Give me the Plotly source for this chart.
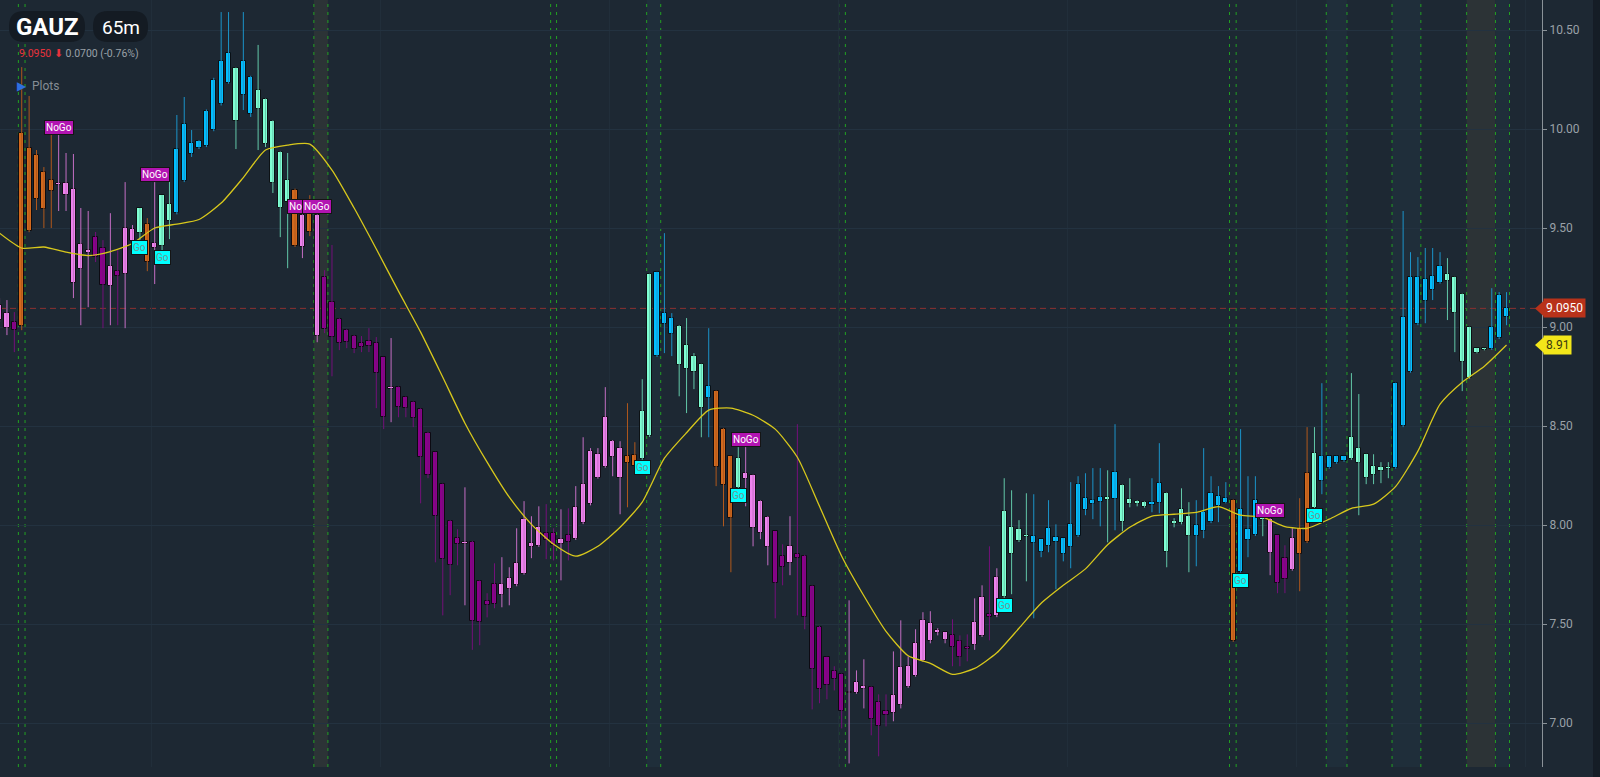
import plotly.graph_objects as go

# ---------------- data ----------------
X_FIRST = -3  # index of the first (partly visible) candle
TREND = ("PPM"
         "OOOOOPPPPP" "MMPMPPAOPA" "ABBBBBBBBA" "BBAAAAAOPO" "PMMMMMMMMM"
         "PMMMMMMMMM" "PMMMMPPPPP" "PMMPMPPPPP" "PPOOAABBBA" "AAABOOOAPP"
         "PPMMPMMMMM" "MMPPPMMMPP" "PPPPPPMMMP" "PMPAAAABBB" "BBBBBBBABA"
         "AAABBAAAAB" "BBBBOBBBAP" "MMPOOABBBB" "AAAAAABBBB" "BBBAAAAAAB"
         "BB")
OPEN = [9.111, 9.071, 9.026,
        9.005, 9.905, 9.870, 9.784, 9.743, 9.728, 9.728, 9.698, 9.293, 9.389,
        9.455, 9.400, 9.207, 9.283, 9.268, 9.496, 9.475, 9.521, 9.425, 9.410,
        9.536, 9.576, 9.738, 9.875, 9.905, 9.915, 9.996, 10.127, 10.234, 10.309,
        10.173, 10.264, 10.102, 10.153, 10.042, 9.885, 9.632, 9.693, 9.405, 9.576,
        9.566, 9.253, 9.127, 9.041, 8.985, 8.955, 8.919, 8.904, 8.919, 8.849,
        8.687, 8.697, 8.646, 8.621, 8.586, 8.464, 8.368, 8.207, 8.020, 7.934,
        7.903, 7.913, 7.716, 7.615, 7.701, 7.646, 7.676, 7.696, 7.752, 7.908,
        7.893, 7.959, 7.959, 7.903, 7.949, 7.929, 8.009, 8.106, 8.358, 8.293,
        8.424, 8.389, 8.313, 8.353, 8.333, 8.449, 9.278, 9.015, 9.046, 9.005,
        8.909, 8.854, 8.813, 8.641, 8.677, 8.485, 8.348, 8.186, 8.262, 8.252,
        8.121, 8.040, 7.969, 7.843, 7.807, 7.853, 7.843, 7.691, 7.484, 7.332,
        7.261, 7.246, 7.150, 7.150, 7.170, 7.180, 7.105, 7.059, 7.049, 7.090,
        7.180, 7.236, 7.312, 7.504, 7.453, 7.459, 7.443, 7.413, 7.383, 7.393,
        7.438, 7.550, 7.539, 7.635, 7.989, 7.918, 7.939, 7.944, 7.929, 7.893,
        7.939, 7.934, 7.888, 7.944, 8.136, 8.106, 8.116, 8.141, 8.131, 8.202,
        8.106, 8.121, 8.116, 8.100, 8.111, 8.161, 8.004, 8.009, 8.045, 7.944,
        7.969, 8.015, 8.146, 8.111, 8.126, 7.762, 7.979, 7.949, 8.035, 8.030,
        7.949, 7.833, 7.772, 7.853, 7.913, 8.085, 8.348, 8.288, 8.313, 8.323,
        8.333, 8.389, 8.358, 8.252, 8.272, 8.283, 8.288, 8.500, 8.773, 9.015,
        9.132, 9.187, 9.223, 9.268, 9.253, 9.167, 9.000, 8.869, 8.884, 8.889,
        8.945, 9.051]
HIGH = [9.147, 9.137, 9.076,
        10.314, 10.168, 9.895, 9.809, 10.006, 9.971, 9.880, 9.875, 9.602, 9.587,
        9.481, 9.440, 9.576, 9.389, 9.733, 9.516, 9.602, 9.551, 9.733, 9.667,
        9.799, 10.072, 10.163, 9.996, 9.945, 10.100, 10.260, 10.592, 10.592, 10.312,
        10.592, 10.270, 10.426, 10.155, 10.045, 9.888, 9.880, 9.700, 9.570, 9.667,
        9.570, 9.288, 9.415, 9.045, 8.990, 8.960, 8.955, 8.995, 8.950, 8.850,
        8.945, 8.700, 8.650, 8.625, 8.590, 8.470, 8.370, 8.210, 8.025, 7.979,
        8.191, 7.920, 7.720, 7.656, 7.807, 7.838, 7.787, 7.984, 8.121, 8.045,
        8.095, 8.106, 7.984, 8.080, 8.085, 8.197, 8.444, 8.389, 8.389, 8.697,
        8.430, 8.424, 8.616, 8.419, 8.737, 9.270, 9.280, 9.475, 9.071, 9.010,
        9.046, 8.869, 8.815, 8.995, 8.680, 8.490, 8.350, 8.394, 8.394, 8.255,
        8.125, 8.045, 7.970, 7.903, 8.045, 8.510, 7.850, 7.695, 7.490, 7.335,
        7.287, 7.250, 7.620, 7.266, 7.322, 7.185, 7.145, 7.145, 7.362, 7.519,
        7.337, 7.474, 7.560, 7.565, 7.479, 7.460, 7.524, 7.443, 7.448, 7.630,
        7.696, 7.893, 7.782, 8.237, 8.176, 8.025, 8.161, 8.156, 7.930, 8.126,
        8.004, 7.935, 8.217, 8.247, 8.262, 8.288, 8.288, 8.277, 8.510, 8.205,
        8.237, 8.125, 8.120, 8.237, 8.414, 8.165, 8.035, 8.186, 8.116, 8.126,
        8.389, 8.247, 8.197, 8.217, 8.130, 8.485, 8.247, 8.247, 8.040, 8.035,
        7.950, 7.898, 7.984, 8.136, 8.495, 8.495, 8.717, 8.350, 8.350, 8.350,
        8.768, 8.662, 8.360, 8.358, 8.318, 8.318, 8.720, 9.587, 9.379, 9.354,
        9.400, 9.400, 9.379, 9.349, 9.255, 9.170, 9.002, 8.895, 8.895, 9.197,
        9.177, 9.177]
LOW = [9.026, 8.960, 8.874,
       8.985, 9.480, 9.592, 9.501, 9.501, 9.587, 9.587, 9.147, 9.010, 9.101,
       9.329, 8.995, 9.010, 9.010, 8.995, 9.415, 9.440, 9.283, 9.218, 9.389,
       9.445, 9.570, 9.733, 9.860, 9.900, 9.910, 9.990, 10.120, 10.230, 9.900,
       10.097, 10.062, 9.895, 9.910, 9.678, 9.455, 9.298, 9.405, 9.349, 9.460,
       8.924, 8.970, 8.752, 8.884, 8.894, 8.869, 8.874, 8.874, 8.591, 8.485,
       8.520, 8.545, 8.545, 8.495, 8.110, 8.237, 7.812, 7.544, 7.646, 7.797,
       7.595, 7.370, 7.393, 7.534, 7.580, 7.585, 7.595, 7.691, 7.750, 7.833,
       7.890, 7.828, 7.822, 7.721, 7.822, 7.925, 8.005, 8.100, 8.235, 8.290,
       8.247, 8.055, 8.090, 8.260, 8.330, 8.445, 8.850, 8.869, 8.854, 8.651,
       8.566, 8.687, 8.444, 8.444, 8.197, 7.994, 7.762, 8.186, 8.095, 7.893,
       7.929, 7.797, 7.529, 7.696, 7.747, 7.544, 7.474, 7.069, 7.100, 7.120,
       7.165, 6.973, 6.796, 7.148, 7.074, 6.938, 6.832, 6.983, 7.009, 7.074,
       7.178, 7.234, 7.310, 7.403, 7.443, 7.403, 7.287, 7.287, 7.312, 7.370,
       7.435, 7.418, 7.535, 7.630, 7.651, 7.915, 7.716, 7.529, 7.838, 7.863,
       7.676, 7.817, 7.782, 7.940, 8.050, 8.030, 7.994, 7.913, 7.974, 7.969,
       8.090, 8.095, 8.088, 8.065, 8.060, 7.787, 7.989, 8.004, 7.762, 7.792,
       7.934, 8.010, 8.015, 8.110, 7.410, 7.760, 7.838, 7.945, 7.944, 7.747,
       7.656, 7.656, 7.770, 7.666, 7.910, 8.085, 8.156, 8.285, 8.310, 8.320,
       8.330, 8.050, 8.207, 8.207, 8.212, 8.237, 8.285, 8.495, 8.770, 9.010,
       9.020, 9.137, 9.220, 9.036, 8.874, 8.677, 8.740, 8.868, 8.883, 8.885,
       8.940, 9.010]
CLOSE = [9.036, 8.995, 8.985,
         9.981, 9.485, 9.647, 9.597, 9.688, 9.718, 9.667, 9.223, 9.420, 9.374,
         9.354, 9.213, 9.309, 9.258, 9.501, 9.435, 9.602, 9.329, 9.400, 9.667,
         9.622, 9.900, 10.026, 9.930, 9.940, 10.092, 10.249, 10.345, 10.385, 10.042,
         10.345, 10.077, 10.198, 9.925, 9.728, 9.602, 9.743, 9.410, 9.566, 9.481,
         8.955, 8.990, 8.950, 8.919, 8.924, 8.889, 8.899, 8.929, 8.768, 8.545,
         8.697, 8.596, 8.591, 8.540, 8.343, 8.252, 8.045, 7.828, 7.797, 7.903,
         7.913, 7.514, 7.509, 7.595, 7.600, 7.701, 7.731, 7.807, 8.030, 7.888,
         7.989, 7.924, 7.898, 7.929, 7.913, 8.090, 8.207, 8.373, 8.237, 8.545,
         8.343, 8.237, 8.348, 8.300, 8.576, 9.268, 8.854, 9.071, 8.965, 8.808,
         8.788, 8.773, 8.591, 8.702, 8.293, 8.202, 8.035, 8.338, 8.232, 7.984,
         7.959, 7.888, 7.706, 7.787, 7.893, 7.833, 7.534, 7.271, 7.170, 7.191,
         7.221, 7.059, 7.155, 7.206, 7.185, 7.019, 6.983, 7.039, 7.140, 7.282,
         7.287, 7.403, 7.519, 7.413, 7.468, 7.418, 7.383, 7.332, 7.372, 7.509,
         7.635, 7.534, 7.737, 8.070, 7.853, 7.979, 7.949, 7.908, 7.863, 7.984,
         7.913, 7.853, 8.004, 8.207, 8.075, 8.126, 8.141, 8.126, 8.267, 8.015,
         8.131, 8.106, 8.090, 8.116, 8.212, 7.863, 8.020, 8.080, 7.944, 7.999,
         8.065, 8.161, 8.095, 8.136, 7.413, 8.080, 7.924, 8.126, 8.025, 7.858,
         7.706, 7.726, 7.934, 7.984, 8.262, 8.363, 8.222, 8.348, 8.348, 8.348,
         8.444, 8.313, 8.237, 8.298, 8.293, 8.293, 8.717, 9.051, 9.253, 9.253,
         9.243, 9.258, 9.309, 9.233, 9.071, 8.823, 8.742, 8.894, 8.894, 9.000,
         9.162, 9.095]

MA_X = list(range(-3, 202, 3))
MA = [9.475, 9.400, 9.405, 9.379, 9.362, 9.382, 9.423, 9.501, 9.521, 9.544,
      9.627, 9.756, 9.895, 9.920, 9.925, 9.794, 9.602, 9.395, 9.182, 8.975,
      8.747, 8.515, 8.318, 8.141, 8.004, 7.903, 7.843, 7.893, 7.989, 8.116,
      8.338, 8.467, 8.581, 8.591, 8.555, 8.485, 8.343, 8.095, 7.843, 7.643,
      7.463, 7.340, 7.302, 7.246, 7.276, 7.355, 7.479, 7.605, 7.696, 7.779,
      7.901, 7.989, 8.046, 8.055, 8.064, 8.093, 8.050, 8.040, 7.992, 7.984,
      8.030, 8.085, 8.106, 8.196, 8.374, 8.611, 8.722, 8.803, 8.910]

GO_AT = [16, 19, 84, 97, 133, 165, 175]
NOGO_AT = [5, 18, 38, 40, 98, 169]
SESSION_LINES = [-0.45, 0.45, 39.55, 41.45, 71.6, 72.4, 84.6, 86.5, 110.6, 111.5,
                 163.5, 164.4, 176.6, 179.4, 185.5, 189.4, 195.6, 199.5, 201.4]
GRAY_BANDS = [(39.55, 41.45), (195.6, 199.5)]
BLUE_BANDS = [(84.6, 86.5), (176.6, 179.4), (185.5, 189.4), (199.5, 201.4)]
Y_TICKS = [7.0, 7.5, 8.0, 8.5, 9.0, 9.5, 10.0, 10.5]
LAST_PRICE = 9.095
MA_LAST = 8.91
SYMBOL, INTERVAL = "GAUZ", "65m"
CHANGE_TEXT = "0.0700 (-0.76%)"

# ---------------- styling ----------------
BG = "#1d2833"
BODY = {"P": "#ee82ee", "M": "#8b008b", "O": "#d2691e", "A": "#7fffd4", "B": "#00bfff"}
WICK = {"P": "#c46ec4", "M": "#74107a", "O": "#b0581c", "A": "#62c7a8", "B": "#1b93c9"}

X = list(range(X_FIRST, X_FIRST + len(OPEN)))

fig = go.Figure()

# wicks, one trace per colour group
for key in "PMOAB":
    wx, wy = [], []
    for x, t, h, l in zip(X, TREND, HIGH, LOW):
        if t == key:
            wx += [x, x, None]
            wy += [l, h, None]
    fig.add_trace(go.Scatter(x=wx, y=wy, mode="lines", hoverinfo="skip",
                             line=dict(color=WICK[key], width=1)))

# bodies
base = [min(o, c) for o, c in zip(OPEN, CLOSE)]
size = [max(abs(c - o), 0.008) for o, c in zip(OPEN, CLOSE)]
fig.add_trace(go.Bar(x=X, y=size, base=base, width=0.7,
                     marker=dict(color=[BODY[t] for t in TREND],
                                 line=dict(color="rgba(8,10,14,0.95)", width=1)),
                     hoverinfo="skip"))

# moving average
fig.add_trace(go.Scatter(x=MA_X, y=MA, mode="lines", hoverinfo="skip",
                         line=dict(color="#d8c81c", width=1.3, shape="spline", smoothing=0.6)))

shapes = []
for a, b in GRAY_BANDS:
    shapes.append(dict(type="rect", xref="x", yref="paper", x0=a, x1=b, y0=0, y1=1,
                       fillcolor="#2c3336", line=dict(width=0), layer="below"))
for a, b in BLUE_BANDS:
    shapes.append(dict(type="rect", xref="x", yref="paper", x0=a, x1=b, y0=0, y1=1,
                       fillcolor="#1f2e3a", line=dict(width=0), layer="below"))
for v in SESSION_LINES:
    shapes.append(dict(type="line", xref="x", yref="paper", x0=v, x1=v, y0=0, y1=1,
                       line=dict(color="#22a022", width=1, dash="3px,5px"), layer="between"))
# last price line
shapes.append(dict(type="line", xref="paper", yref="y", x0=0, x1=1, y0=LAST_PRICE, y1=LAST_PRICE,
                   line=dict(color="#8a3030", width=1, dash="6px,4px"), layer="between"))
# right-edge strip
shapes.append(dict(type="rect", xref="paper", yref="paper", x0=1.0331, x1=1.06, y0=-0.05, y1=1.05,
                   fillcolor="#151d26", line=dict(width=0)))
# tag arrow tips
for val, col in [(LAST_PRICE, "#b8321a"), (MA_LAST, "#f2e61a")]:
    shapes.append(dict(type="path", xref="paper", yref="y", xsizemode="pixel", ysizemode="pixel",
                       xanchor=1, yanchor=val, path="M -7 0 L 2 8 L 2 -8 Z",
                       fillcolor=col, line=dict(width=0)))


def pill(x0, x1, ytop, ybot, r):
    # rounded rectangle in pixels relative to the top-left paper corner (y up)
    return (f"M {x0 + r} {ytop} L {x1 - r} {ytop} Q {x1} {ytop} {x1} {ytop - r} "
            f"L {x1} {ybot + r} Q {x1} {ybot} {x1 - r} {ybot} L {x0 + r} {ybot} "
            f"Q {x0} {ybot} {x0} {ybot + r} L {x0} {ytop - r} Q {x0} {ytop} {x0 + r} {ytop} Z")


for a, b in [(9, 85), (93, 148)]:
    shapes.append(dict(type="path", xref="paper", yref="paper", xsizemode="pixel", ysizemode="pixel",
                       xanchor=0, yanchor=1, path=pill(a, b, -11, -42, 15),
                       fillcolor="#141b23", line=dict(width=0)))

ann = []
for i in NOGO_AT:
    k = i - X_FIRST
    ann.append(dict(x=i, y=HIGH[k], xref="x", yref="y", text="NoGo", showarrow=False,
                    yanchor="bottom", xanchor="center", font=dict(size=10, color="white", family="Roboto"),
                    bgcolor="#b214b2", bordercolor="#151515", borderwidth=1, borderpad=1))
for i in GO_AT:
    k = i - X_FIRST
    ann.append(dict(x=i, y=LOW[k], xref="x", yref="y", text="Go", showarrow=False,
                    yanchor="top", xanchor="center", font=dict(size=10, color="#6f9494", family="Roboto"),
                    bgcolor="#00ffff", bordercolor="#151515", borderwidth=1, borderpad=1))
# axis tags
ann.append(dict(x=1, y=LAST_PRICE, xref="paper", yref="y", text=f"{LAST_PRICE:.4f}", showarrow=False,
                xanchor="left", yanchor="middle", xshift=1, bgcolor="#b8321a",
                font=dict(size=12, color="white", family="Roboto"), borderpad=2))
ann.append(dict(x=1, y=MA_LAST, xref="paper", yref="y", text=f"{MA_LAST:.2f}", showarrow=False,
                xanchor="left", yanchor="middle", xshift=1, bgcolor="#f2e61a",
                font=dict(size=12, color="#3a3a10", family="Roboto"), borderpad=2))
# header
ann.append(dict(x=0, y=1, xref="paper", yref="paper", text=f"<b>{SYMBOL}</b>", showarrow=False,
                xanchor="center", yanchor="middle", xshift=47, yshift=-27,
                font=dict(size=24, color="white", family="Roboto")))
ann.append(dict(x=0, y=1, xref="paper", yref="paper", text=INTERVAL, showarrow=False,
                xanchor="center", yanchor="middle", xshift=120.5, yshift=-27,
                font=dict(size=19, color="white", family="Roboto")))
ann.append(dict(x=0, y=1, xref="paper", yref="paper",
                text=f'<span style="color:#e8323c">{LAST_PRICE:.4f}</span> '
                     f'<span style="color:#e8323c">⬇</span> {CHANGE_TEXT}',
                showarrow=False, xanchor="left", yanchor="middle", xshift=17, yshift=-53,
                font=dict(size=10.5, color="#9aa1a8", family="Roboto")))
ann.append(dict(x=0, y=1, xref="paper", yref="paper",
                text='<span style="color:#2f6fe0">▶</span>  Plots',
                showarrow=False, xanchor="left", yanchor="middle", xshift=15, yshift=-86,
                font=dict(size=12, color="#858d95", family="Roboto")))

fig.update_layout(
    width=1600, height=777,
    margin=dict(l=0, r=58, t=0, b=10),
    paper_bgcolor=BG, plot_bgcolor=BG,
    showlegend=False, barmode="overlay", bargap=0,
    font=dict(family="Roboto", color="#9aa1a8"),
    shapes=shapes, annotations=ann,
    xaxis=dict(range=[-2.94, 205.8], showticklabels=False, ticks="", showgrid=True,
               gridcolor="#212e3a", gridwidth=1, tick0=17.6, dtick=31, zeroline=False,
               showline=False, fixedrange=True),
    yaxis=dict(side="right", range=[6.778, 10.653], tickvals=Y_TICKS,
               ticktext=[f"{v:.2f}" for v in Y_TICKS], ticks="outside", ticklen=4,
               tickcolor="#8a9298", showline=True, linecolor="#8a9298", linewidth=1,
               tickfont=dict(size=12, color="#9aa1a8", family="Roboto"),
               showgrid=True, gridcolor="#233240", zeroline=False, fixedrange=True),
)

fig.write_html("out.html", config={"displayModeBar": False},
               post_script="document.body.style.margin='0';"
                           "document.body.style.background='" + BG + "';"
                           "document.body.style.overflow='hidden';")
